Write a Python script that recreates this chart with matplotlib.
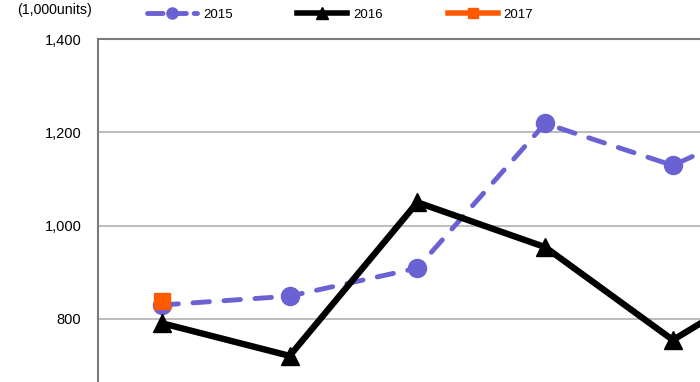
import matplotlib
matplotlib.use("Agg")
import matplotlib.pyplot as plt
from matplotlib.lines import Line2D

months = ["Jan", "Feb", "Mar", "Apr", "May", "Jun"]
s2015 = [830, 849, 909, 1219, 1129, 1255]
s2016 = [791, 721, 1050, 954, 755, 920]
s2017 = [839]
yticks = [800, 1000, 1200, 1400]
ytick_labels = ["800", "1,000", "1,200", "1,400"]
series_names = ["2015", "2016", "2017"]

c2015 = "#6A62D2"
c2016 = "#000000"
c2017 = "#FF5A00"

plt.rcParams['font.family'] = ['Liberation Sans', 'DejaVu Sans']

fig = plt.figure(figsize=(7.0, 3.82), dpi=100)
W, H = 700, 382
left_px, top_px = 98, 39
ax = fig.add_axes([left_px / W, 0, 1 - left_px / W, (H - top_px) / H])

x15 = [i + 0.5 for i in range(len(s2015))]
x16 = [i + 0.5 for i in range(len(s2016))]
x17 = [i + 0.5 for i in range(len(s2017))]

ax.plot(x15, s2015, color=c2015, lw=3.5, ls=(0, (3.4, 3.0)), marker="o", ms=13,
        dash_capstyle="round", solid_capstyle="round", zorder=3)
ax.plot(x16, s2016, color=c2016, lw=4.6, marker="^", ms=13,
        solid_capstyle="round", solid_joinstyle="miter", zorder=4)
ax.plot(x17, s2017, color=c2017, lw=4, marker="s", ms=12, zorder=5)

ax.set_xlim(0, (W - left_px) / 127.75)
ax.set_ylim(665, 1400)
ax.set_yticks(yticks)
ax.set_yticklabels(ytick_labels, fontsize=10.5)
ax.set_xticks([])
ax.tick_params(axis="y", length=0, pad=12)
ax.yaxis.grid(True, color="#B0B0B0", lw=1.2)
ax.set_axisbelow(True)
for s in ["right", "bottom"]:
    ax.spines[s].set_visible(False)
ax.spines["left"].set_color("#7A7A7A")
ax.spines["left"].set_linewidth(1.5)
ax.spines["top"].set_color("#7A7A7A")
ax.spines["top"].set_linewidth(1.5)

fig.text(17 / W, 1 - 10 / H, "(1,000units)", fontsize=10.2, va="center", ha="left")

handles = [
    Line2D([], [], color=c2015, lw=3.5, ls=(0, (3.2, 1.6)), marker="o", ms=8,
           dash_capstyle="round"),
    Line2D([], [], color=c2016, lw=4, marker="^", ms=8),
    Line2D([], [], color=c2017, lw=4, marker="s", ms=7),
]
fig.legend(handles, series_names, loc="center left",
           bbox_to_anchor=(147 / W, 1 - 15 / H), ncol=3, frameon=False,
           fontsize=9.5, handlelength=3.8, handletextpad=0.45, columnspacing=4.9,
           borderaxespad=0, borderpad=0)

fig.savefig("out.png", dpi=100)
